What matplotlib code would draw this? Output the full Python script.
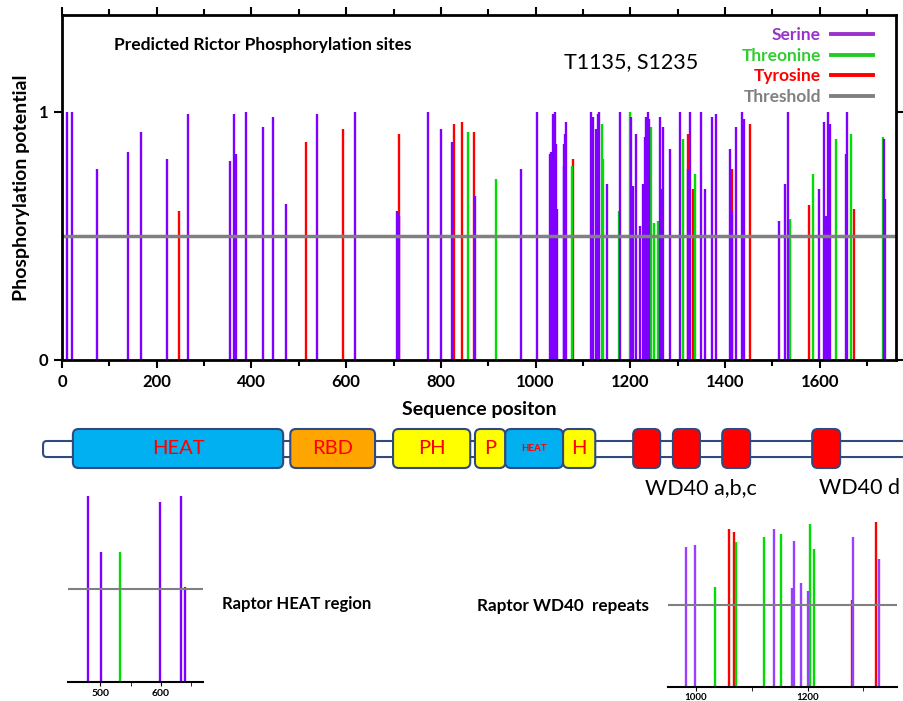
import matplotlib
matplotlib.use("Agg")
import matplotlib.pyplot as plt
from matplotlib.lines import Line2D
from matplotlib.patches import FancyBboxPatch

plt.rcParams['font.family'] = ['Lato', 'DejaVu Sans']

# ---- main chart data (sequence position, phosphorylation potential) ----
serine_pos = [10, 22, 73, 140, 167, 222, 267, 355, 364, 368, 388, 424, 445, 474, 538, 619,
              708, 710, 712, 772, 801, 823, 873, 969, 1002, 1030, 1033, 1036, 1039, 1041,
              1043, 1046, 1060, 1061, 1062, 1064, 1117, 1121, 1127, 1131, 1134, 1150, 1179,
              1202, 1205, 1212, 1221, 1226, 1230, 1234, 1236, 1238, 1240, 1263, 1266, 1270,
              1283, 1305, 1321, 1326, 1349, 1357, 1372, 1380, 1411, 1415, 1423, 1435, 1439,
              1515, 1527, 1534, 1599, 1608, 1611, 1613, 1617, 1621, 1656, 1658, 1735, 1737]
serine_val = [1.0, 1.0, 0.77, 0.84, 0.92, 0.81, 0.99, 0.80, 0.99, 0.83, 1.0, 0.94, 0.98, 0.63,
              0.99, 1.0, 0.60, 0.59, 0.58, 1.0, 0.93, 0.88, 0.66, 0.77, 1.0, 0.83, 0.84, 0.99,
              0.98, 1.0, 0.87, 0.61, 0.87, 0.78, 0.91, 0.96, 1.0, 0.98, 0.93, 0.99, 1.0, 0.71,
              1.0, 0.98, 0.70, 0.91, 0.54, 0.71, 0.90, 0.98, 0.96, 1.0, 0.97, 0.98, 0.69, 0.94,
              0.85, 1.0, 0.77, 1.0, 1.0, 0.69, 0.98, 0.99, 0.85, 0.60, 0.94, 1.0, 0.97,
              0.56, 0.71, 1.0, 0.69, 0.96, 0.58, 0.58, 1.0, 0.95, 0.83, 1.0, 0.89, 0.65]
threonine_pos = [858, 916, 1077, 1140, 1143, 1177, 1200, 1243, 1249, 1259, 1312, 1336, 1538,
                 1585, 1635, 1667, 1733]
threonine_val = [0.92, 0.73, 0.78, 0.95, 0.81, 0.60, 1.0, 0.94, 0.55, 0.56, 0.89, 0.75, 0.57,
                 0.75, 0.89, 0.91, 0.90]
tyrosine_pos = [246, 515, 593, 712, 828, 844, 869, 1078, 1321, 1333, 1415, 1453, 1578, 1673]
tyrosine_val = [0.60, 0.88, 0.93, 0.91, 0.95, 0.96, 0.92, 0.81, 0.91, 0.69, 0.77, 0.95, 0.625, 0.61]
threshold = 0.5

# ---- domain map (sequence units) ----
domain_names = ["HEAT", "RBD", "PH", "P", "HEAT", "H", "", "", "", ""]
domain_start = [23, 482, 699, 872, 936, 1058, 1206, 1290, 1394, 1584]
domain_end = [467, 661, 862, 936, 1058, 1126, 1263, 1347, 1453, 1643]
domain_kind = ["heat", "rbd", "ph", "ph", "heat", "ph", "wd", "wd", "wd", "wd"]
wd40_labels = ["WD40 a,b,c", "WD40 d"]
wd40_label_pos = [1349, 1683]

# ---- Raptor HEAT region inset ----
heat_ser_pos = [480, 502, 599, 632, 639]
heat_ser_val = [1.0, 0.70, 0.97, 1.0, 0.51]
heat_thr_pos = [533]
heat_thr_val = [0.70]

# ---- Raptor WD40 repeats inset ----
wd_ser_pos = [983, 998, 1140, 1172, 1175, 1189, 1200, 1282, 1328]
wd_ser_val = [0.85, 0.86, 0.96, 0.60, 0.89, 0.63, 0.585, 0.91, 0.78]
wd_thr_pos = [1035, 1072, 1122, 1152, 1205, 1211]
wd_thr_val = [0.61, 0.88, 0.91, 0.93, 0.99, 0.84]
wd_tyr_pos = [1059, 1068, 1279, 1323]
wd_tyr_val = [0.96, 0.94, 0.53, 1.0]

PURPLE = "#7F00FF"
GREEN = "#00DD00"
RED = "#FF0000"
GRAY = "#808080"
kind_colors = {"heat": "#00B0F0", "rbd": "#FFA500", "ph": "#FFFF00", "wd": "#FF0000"}

W, H = 904, 701
fig = plt.figure(figsize=(W / 100, H / 100), dpi=100)


def frac(x0, y0, x1, y1):
    return [x0 / W, 1 - y1 / H, (x1 - x0) / W, (y1 - y0) / H]


# main chart
ax = fig.add_axes(frac(62, 15, 896, 360))
ax.vlines(tyrosine_pos, 0, tyrosine_val, color=RED, lw=1.7)
ax.vlines(threonine_pos, 0, threonine_val, color=GREEN, lw=1.7)
ax.vlines(serine_pos, 0, serine_val, color=PURPLE, lw=1.7)
ax.axhline(threshold, color=GRAY, lw=2.5)
ax.set_xlim(0, 1761)
ax.set_ylim(0, 1.39)
ax.set_xticks(range(0, 1761, 200))
ax.set_xticks(range(100, 1761, 200), minor=True)
ax.set_yticks([0, 1])
for s in ax.spines.values():
    s.set_linewidth(2)
ax.tick_params(which='both', direction='out', top=True, right=True, width=1.5)
ax.tick_params(which='major', length=6, pad=4)
ax.tick_params(which='minor', length=4)
for lab in ax.get_xticklabels() + ax.get_yticklabels():
    lab.set_fontweight('bold')
    lab.set_fontsize(12)
ax.set_xlabel("Sequence positon", fontsize=14, fontweight='bold', labelpad=8)
ax.set_ylabel("Phosphorylation potential", fontsize=14, fontweight='bold', labelpad=6)
ax.text(0.241, 0.913, "Predicted Rictor Phosphorylation sites", transform=ax.transAxes,
        ha='center', va='center', fontsize=12.5, fontweight='bold')
ax.text(0.682, 0.864, "T1135, S1235", transform=ax.transAxes, ha='center', va='center',
        fontsize=15.5)

handles = [Line2D([], [], color="#9933CC", lw=2.8), Line2D([], [], color="#22CC22", lw=2.8),
           Line2D([], [], color=RED, lw=2.8), Line2D([], [], color=GRAY, lw=2.8)]
ax.legend(handles, ["Serine", "Threonine", "Tyrosine", "Threshold"], loc='upper right',
          bbox_to_anchor=(0.9725, 0.965), frameon=False, markerfirst=False,
          labelcolor=["#9933CC", "#33CC33", RED, GRAY], handlelength=2.4,
          labelspacing=0.26, borderaxespad=0, borderpad=0, handletextpad=0.6,
          prop={'weight': 'bold', 'size': 12.5})

# domain map
ad = fig.add_axes(frac(62, 420, 896, 480))
ad.set_xlim(0, 1761)
ad.set_ylim(0, 1)
ad.axis('off')
aspect = (834 / 1761) / 60
ad.add_patch(FancyBboxPatch((-40, 0.383), 1900, 0.267, boxstyle="round,pad=0,rounding_size=8",
                            mutation_aspect=aspect, fc='white', ec="#2F4A80", lw=1.5,
                            clip_on=False))
for name, a, b, k in zip(domain_names, domain_start, domain_end, domain_kind):
    ad.add_patch(FancyBboxPatch((a, 0.2), b - a, 0.65, boxstyle="round,pad=0,rounding_size=12",
                                mutation_aspect=aspect, fc=kind_colors[k], ec="#2F4A80",
                                lw=1.5, clip_on=False))
    if name:
        small = name == "HEAT" and b - a < 200
        ad.text((a + b) / 2, 0.52, name, color=RED, ha='center', va='center',
                fontsize=7 if small else 14.5, fontweight='bold' if small else 'normal')
for lab, x in zip(wd40_labels, wd40_label_pos):
    ad.text(x, -0.14, lab, ha='center', va='center', fontsize=15.5)

# Raptor HEAT inset
a1 = fig.add_axes(frac(68, 490, 203, 682))
a1.vlines(heat_thr_pos, 0, heat_thr_val, color=GREEN, lw=1.7)
a1.vlines(heat_ser_pos, 0, heat_ser_val, color=PURPLE, lw=1.7)
a1.axhline(threshold, color=GRAY, lw=1.5)
a1.set_xlim(447, 669)
a1.set_ylim(0, 1.032)
a1.set_xticks([500, 600])
a1.set_xticks([550, 650], minor=True)
a1.set_yticks([])
for side in ['left', 'right', 'top']:
    a1.spines[side].set_visible(False)
a1.spines['bottom'].set_linewidth(1.5)
a1.tick_params(which='both', length=3, labelsize=7.5, pad=2)
for lab in a1.get_xticklabels():
    lab.set_fontweight('bold')
a1.patch.set_alpha(0)
fig.text(222 / W, 1 - 604 / H, "Raptor HEAT region", ha='left', va='center', fontsize=12,
         fontweight='bold')

# Raptor WD40 inset
a2 = fig.add_axes(frac(668, 518, 897, 687))
a2.vlines(wd_tyr_pos, 0, wd_tyr_val, color=RED, lw=1.7)
a2.vlines(wd_thr_pos, 0, wd_thr_val, color=GREEN, lw=1.7)
a2.vlines(wd_ser_pos, 0, wd_ser_val, color="#9940FF", lw=1.7)
a2.axhline(threshold, color=GRAY, lw=1.5)
a2.set_xlim(950, 1360)
a2.set_ylim(0, 1.027)
a2.set_xticks([1000, 1200])
a2.set_xticks([1100, 1300], minor=True)
a2.set_yticks([])
for side in ['left', 'right', 'top']:
    a2.spines[side].set_visible(False)
a2.spines['bottom'].set_linewidth(1.5)
a2.tick_params(which='both', length=3, labelsize=7, pad=1)
for lab in a2.get_xticklabels():
    lab.set_fontweight('bold')
a2.patch.set_alpha(0)
fig.text(477 / W, 1 - 606 / H, "Raptor WD40  repeats", ha='left', va='center', fontsize=12.3,
         fontweight='bold')

fig.savefig("out.png", dpi=100)
